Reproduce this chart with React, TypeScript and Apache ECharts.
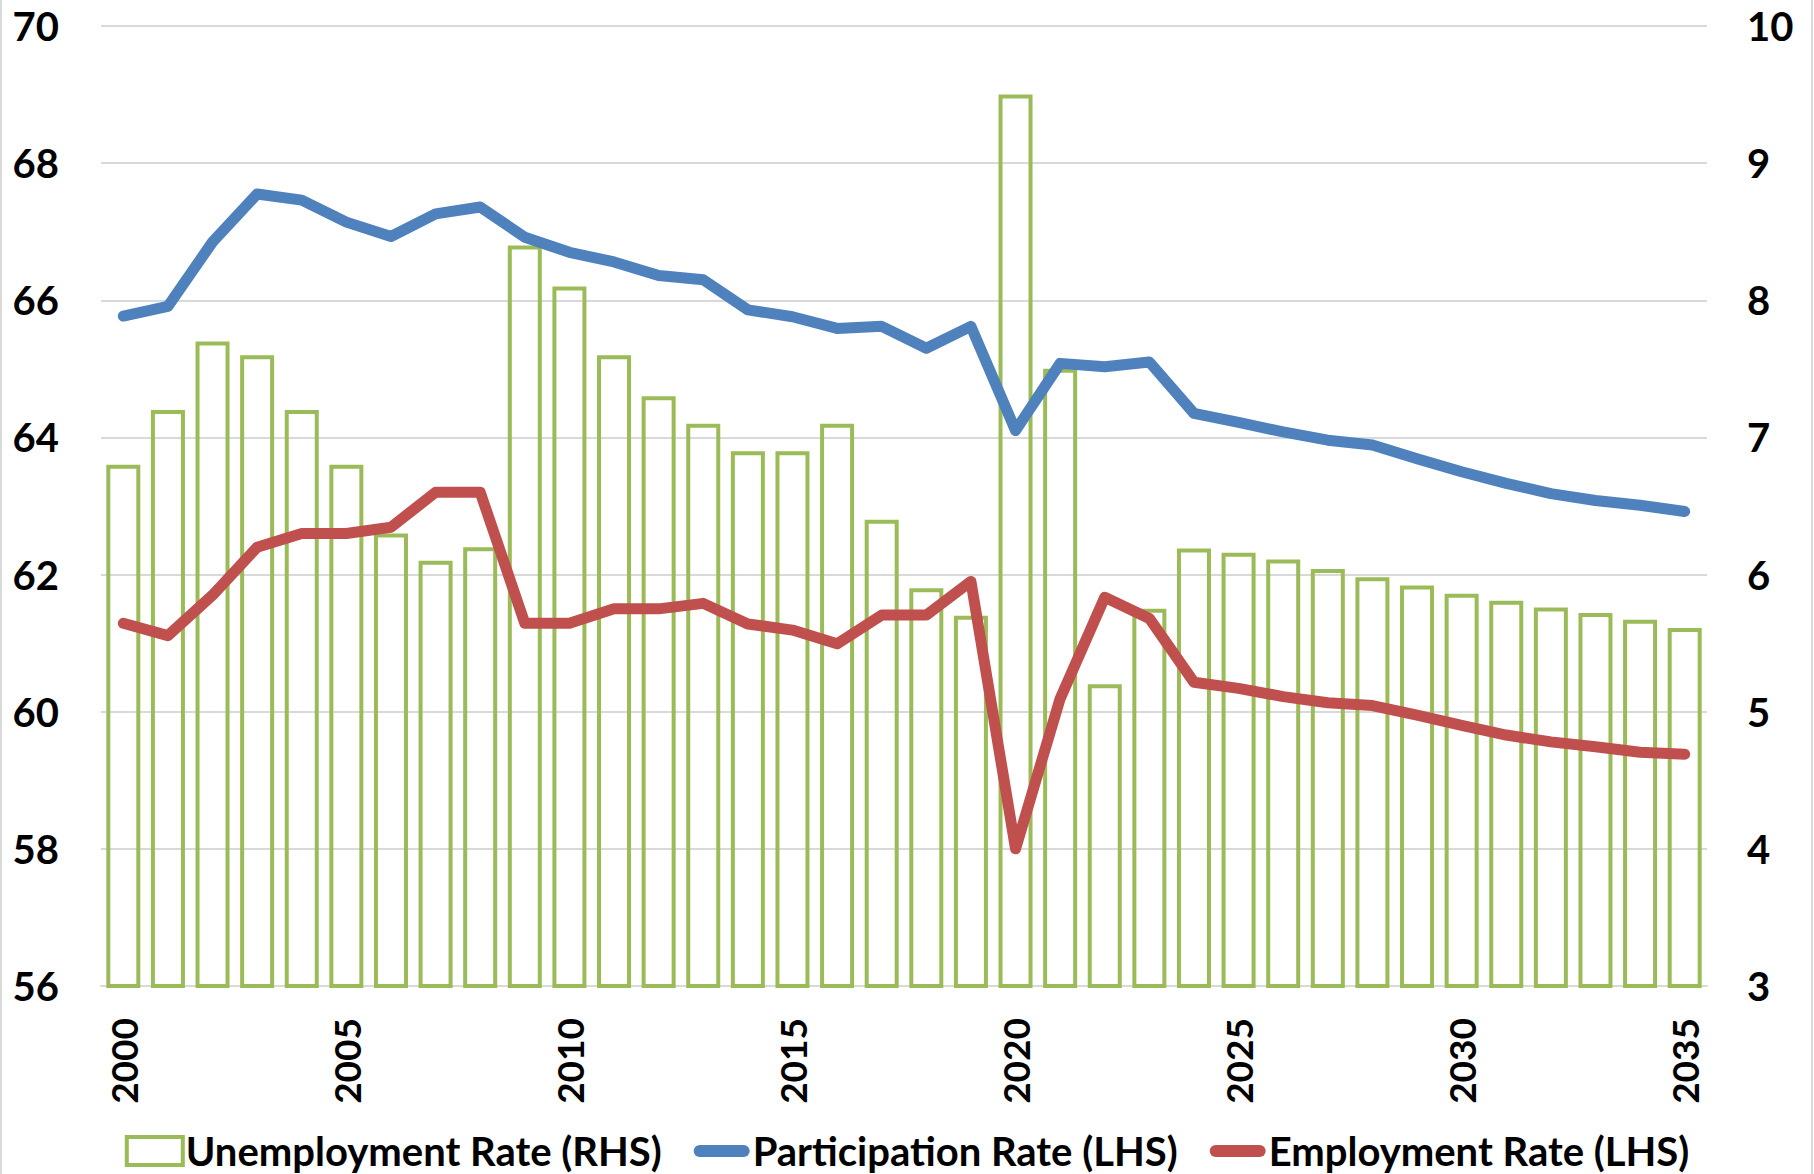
import React, { useEffect, useRef } from "react";
import * as echarts from "echarts";

const years = Array.from({ length: 36 }, (_, i) => String(2000 + i));

const unemploymentRate = [
  6.8, 7.2, 7.7, 7.6, 7.2, 6.8, 6.3, 6.1, 6.2, 8.4,
  8.1, 7.6, 7.3, 7.1, 6.9, 6.9, 7.1, 6.4, 5.9, 5.7,
  9.5, 7.5, 5.2, 5.75, 6.19, 6.16, 6.11, 6.04, 5.98, 5.92,
  5.86, 5.81, 5.76, 5.72, 5.67, 5.61,
];

const participationRate = [
  65.77, 65.91, 66.85, 67.55, 67.46, 67.14, 66.93, 67.26, 67.36, 66.92,
  66.7, 66.56, 66.36, 66.3, 65.86, 65.76, 65.59, 65.62, 65.3, 65.62,
  64.1, 65.08, 65.03, 65.1, 64.35, 64.22, 64.08, 63.96, 63.89, 63.69,
  63.5, 63.33, 63.18, 63.08, 63.01, 62.92,
];

const employmentRate = [
  61.29, 61.11, 61.7, 62.4, 62.6, 62.6, 62.69, 63.2, 63.2, 61.29,
  61.29, 61.5, 61.5, 61.58, 61.28, 61.19, 60.99, 61.41, 61.41, 61.9,
  58.0, 60.19, 61.67, 61.36, 60.43, 60.34, 60.22, 60.13, 60.09, 59.95,
  59.8, 59.66, 59.56, 59.49, 59.41, 59.38,
];

const leftTicks = { min: 56, max: 70, interval: 2 };
const rightTicks = { min: 3, max: 10, interval: 1 };

const names = [
  "Unemployment Rate (RHS)",
  "Participation Rate (LHS)",
  "Employment Rate (LHS)",
];

const GREEN = "#9BBB59";
const BLUE = "#4F81BD";
const RED = "#C0504D";
const GRID = "#D9D9D9";
const FONT = "Lato, 'Noto Sans', sans-serif";

const lineIcon =
  "path://M0,0 M56,28 M6,8 L50,8 A6,6 0 0 1 50,20 L6,20 A6,6 0 0 1 6,8 Z";

export default function App() {
  const ref = useRef<HTMLDivElement>(null);

  useEffect(() => {
    document.body.style.margin = "0";
    const chart = echarts.init(ref.current!, undefined, { renderer: "svg" });
    const labelStyle = {
      fontFamily: FONT,
      fontWeight: "bold" as const,
      fontSize: 40,
      color: "#000",
    };
    chart.setOption({
      animation: false,
      backgroundColor: "#fff",
      graphic: [
        {
          type: "rect",
          shape: { x: 1, y: -10, width: 1811, height: 1200 },
          style: { fill: "none", stroke: GRID, lineWidth: 2 },
          silent: true,
        },
      ],
      grid: { left: 101, right: 107, top: 26, bottom: 188 },
      legend: {
        left: "center",
        top: 1126,
        itemWidth: 56,
        itemHeight: 28,
        itemGap: 32,
        textStyle: { ...labelStyle, padding: [0, 0, 0, -2] },
        data: [
          {
            name: names[0],
            icon: "rect",
            itemStyle: { color: "rgba(255,255,255,0)", borderColor: GREEN, borderWidth: 4 },
          },
          { name: names[1], icon: lineIcon, itemStyle: { color: BLUE } },
          { name: names[2], icon: lineIcon, itemStyle: { color: RED } },
        ],
      },
      xAxis: {
        type: "category",
        data: years,
        boundaryGap: true,
        axisLine: { show: true, lineStyle: { color: GRID, width: 2 } },
        axisTick: { show: false },
        axisLabel: {
          ...labelStyle,
          fontSize: 37,
          rotate: 90,
          interval: 4,
          margin: 32,
        },
      },
      yAxis: [
        {
          type: "value",
          min: leftTicks.min,
          max: leftTicks.max,
          interval: leftTicks.interval,
          axisLine: { show: false },
          axisTick: { show: false },
          splitLine: { show: true, lineStyle: { color: GRID, width: 2 } },
          axisLabel: { ...labelStyle, margin: 42 },
        },
        {
          type: "value",
          min: rightTicks.min,
          max: rightTicks.max,
          interval: rightTicks.interval,
          position: "right",
          axisLine: { show: false },
          axisTick: { show: false },
          splitLine: { show: false },
          axisLabel: { ...labelStyle, margin: 40 },
        },
      ],
      series: [
        {
          name: names[0],
          type: "bar",
          yAxisIndex: 1,
          data: unemploymentRate,
          barWidth: 34,
          itemStyle: {
            color: "rgba(255,255,255,0)",
            borderColor: GREEN,
            borderWidth: 4,
          },
          z: 1,
        },
        {
          name: names[1],
          type: "line",
          yAxisIndex: 0,
          data: participationRate,
          symbol: "none",
          itemStyle: { color: BLUE },
          lineStyle: { color: BLUE, width: 11, cap: "round", join: "round" },
          z: 3,
        },
        {
          name: names[2],
          type: "line",
          yAxisIndex: 0,
          data: employmentRate,
          symbol: "none",
          itemStyle: { color: RED },
          lineStyle: { color: RED, width: 11, cap: "round", join: "round" },
          z: 3,
        },
      ],
    });
    return () => chart.dispose();
  }, []);

  return <div ref={ref} style={{ width: 1814, height: 1174 }} />;
}
